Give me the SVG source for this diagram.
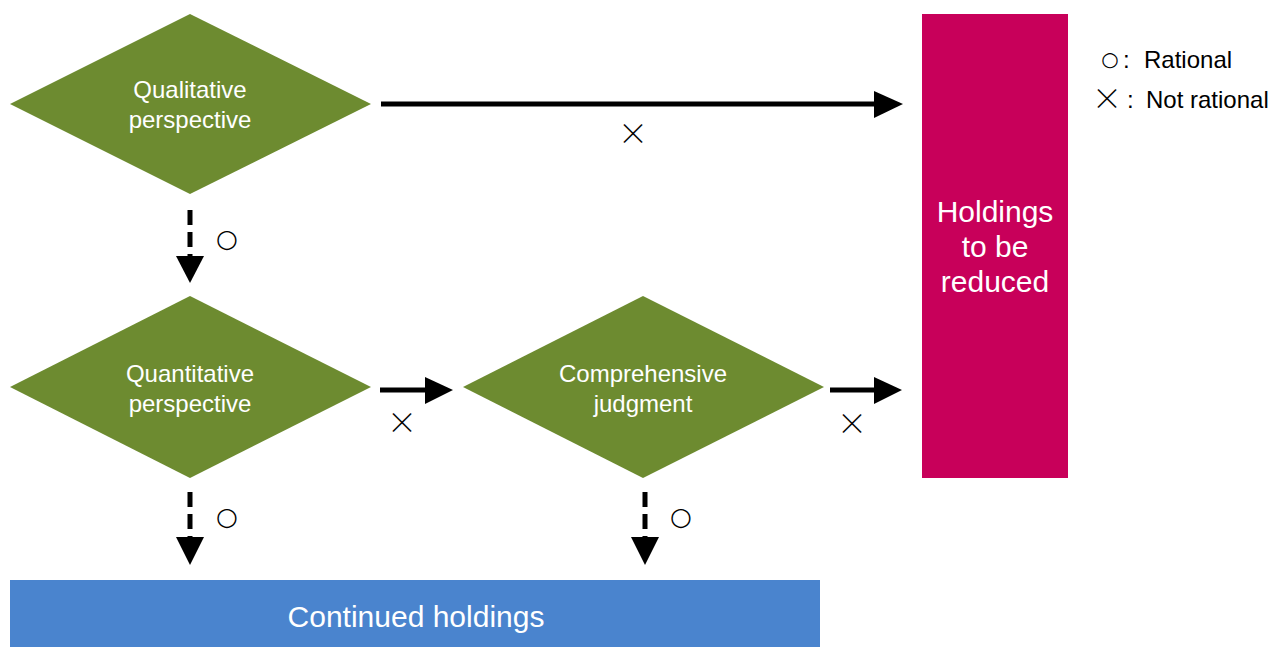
<svg xmlns="http://www.w3.org/2000/svg" width="1274" height="647" viewBox="0 0 1274 647">
<style>
.dia{fill:#6D8B30}
.lbl{font-family:"Liberation Sans",Arial,sans-serif;font-size:24px;fill:#FFFFFF;text-anchor:middle}
.big{font-family:"Liberation Sans",Arial,sans-serif;font-size:30px;fill:#FFFFFF;text-anchor:middle}
.sym{font-family:"DejaVu Sans",sans-serif;font-size:20px;fill:#000;text-anchor:middle}
.o{font-family:"DejaVu Sans",sans-serif;font-size:25px;fill:#000;text-anchor:middle}
.x{font-family:"Noto Sans CJK JP",sans-serif;font-size:30px;font-weight:300;fill:#000;text-anchor:middle}
.leg{font-family:"Liberation Sans",Arial,sans-serif;font-size:24px;fill:#000}
.ln{stroke:#000;stroke-width:5;fill:none}
.dash{stroke:#000;stroke-width:5;fill:none;stroke-dasharray:15 7}
.hd{fill:#000}
</style>
<rect width="1274" height="647" fill="#FFFFFF"/>
<g id="qualitative">
<polygon class="dia" points="190,14 371,104 190,194 10,104"/>
<text class="lbl" x="190" y="98">Qualitative</text>
<text class="lbl" x="190" y="128">perspective</text>
</g>
<g id="quantitative">
<polygon class="dia" points="190,296 371,387 190,478 10,387"/>
<text class="lbl" x="190" y="382">Quantitative</text>
<text class="lbl" x="190" y="412">perspective</text>
</g>
<g id="comprehensive">
<polygon class="dia" points="643,296 824,387 643,478 463,387"/>
<text class="lbl" x="643" y="382">Comprehensive</text>
<text class="lbl" x="643" y="412">judgment</text>
</g>
<g id="reduced">
<rect x="922" y="14" width="146" height="464" fill="#C8005A"/>
<text class="big" x="995" y="222">Holdings</text>
<text class="big" x="995" y="257">to be</text>
<text class="big" x="995" y="292">reduced</text>
</g>
<g id="continued">
<rect x="10" y="580" width="810" height="67" fill="#4A84CE"/>
<text class="big" x="416" y="627">Continued holdings</text>
</g>
<g id="connectors">
<line class="ln" x1="381" y1="104" x2="876" y2="104"/>
<polygon class="hd" points="874,91 903,104 874,118"/>
<text class="x" x="633" y="144">×</text>
<line class="dash" x1="190" y1="210" x2="190" y2="256"/>
<polygon class="hd" points="176,256 204,256 190,283"/>
<text class="o" x="227" y="247">○</text>
<line class="ln" x1="380" y1="390" x2="427" y2="390"/>
<polygon class="hd" points="425,377 453,390 425,404"/>
<text class="x" x="402" y="433">×</text>
<line class="ln" x1="830" y1="390" x2="876" y2="390"/>
<polygon class="hd" points="874,377 902,390 874,404"/>
<text class="x" x="852" y="434">×</text>
<line class="dash" x1="190" y1="492" x2="190" y2="538"/>
<polygon class="hd" points="176,537 204,537 190,565"/>
<text class="o" x="227" y="525">○</text>
<line class="dash" x1="645" y1="492" x2="645" y2="538"/>
<polygon class="hd" points="631,537 659,537 645,565"/>
<text class="o" x="681" y="525">○</text>
</g>
<g id="legend">
<text class="sym" x="1110" y="66">○</text>
<text class="leg" x="1123" y="68">:</text>
<text class="leg" x="1144" y="68">Rational</text>
<text class="x" x="1107" y="109">×</text>
<text class="leg" x="1127" y="108">:</text>
<text class="leg" x="1146" y="108">Not rational</text>
</g>
</svg>
